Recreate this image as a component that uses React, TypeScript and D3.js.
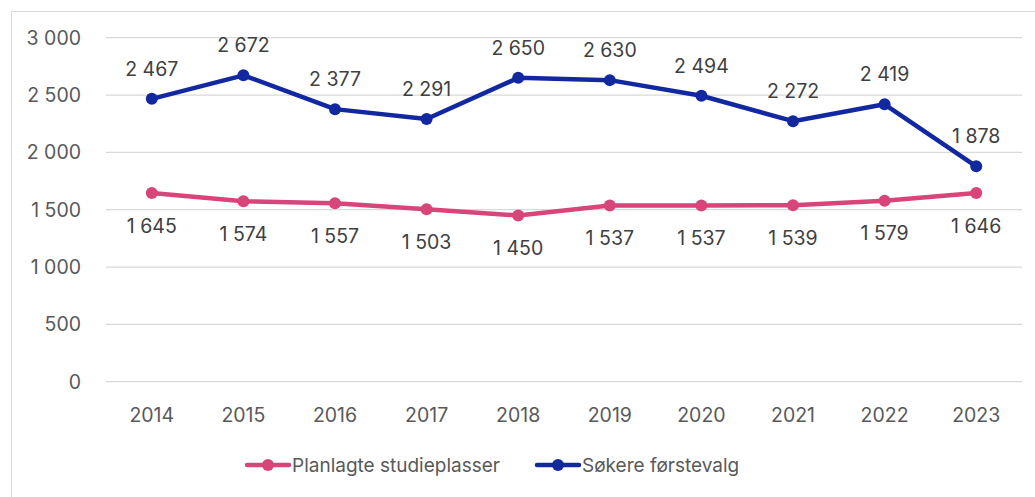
import React, { useEffect, useRef } from 'react';
import * as d3 from 'd3';

const years = ['2014', '2015', '2016', '2017', '2018', '2019', '2020', '2021', '2022', '2023'];
const planlagte = [1645, 1574, 1557, 1503, 1450, 1537, 1537, 1539, 1579, 1646];
const sokere = [2467, 2672, 2377, 2291, 2650, 2630, 2494, 2272, 2419, 1878];
const yTicks = [0, 500, 1000, 1500, 2000, 2500, 3000];

const PINK = '#d8457a';
const BLUE = '#1228a0';
const TEXT = '#595959';
const FONT = 'Inter, "Open Sans", sans-serif';

const fmt = (v: number) => d3.format(',')(v).replace(/,/g, ' ');

const App = () => {
    const ref = useRef<SVGSVGElement>(null);

    useEffect(() => {
        const svg = d3.select(ref.current);
        svg.selectAll('*').remove();

        // chart frame
        svg.append('rect')
            .attr('x', 11.5).attr('y', 11.5)
            .attr('width', 1040).attr('height', 500)
            .attr('fill', 'white').attr('stroke', '#d9d9d9');

        const x = d3.scaleBand().domain(years).range([106, 1022]);
        const cx = (d: string) => (x(d) as number) + x.bandwidth() / 2;
        const y = d3.scaleLinear().domain([0, 3000]).range([381.7, 37.7]);

        svg.append('g').selectAll('line')
            .data(yTicks).enter().append('line')
            .attr('x1', 106).attr('x2', 1022)
            .attr('y1', d => y(d)).attr('y2', d => y(d))
            .attr('stroke', '#d9d9d9').attr('stroke-width', 1.3);

        svg.append('g').selectAll('text')
            .data(yTicks).enter().append('text')
            .attr('x', 81).attr('y', d => y(d)).attr('dy', '0.35em')
            .attr('text-anchor', 'end')
            .attr('font-family', FONT).attr('font-size', 19.5).attr('fill', TEXT)
            .text(d => fmt(d));

        svg.append('g').selectAll('text')
            .data(years).enter().append('text')
            .attr('x', d => cx(d)).attr('y', 415).attr('dy', '0.35em')
            .attr('text-anchor', 'middle')
            .attr('font-family', FONT).attr('font-size', 19.5).attr('fill', TEXT)
            .text(d => d);

        const series = [
            { values: planlagte, color: PINK, dy: 33 },
            { values: sokere, color: BLUE, dy: -30 },
        ];

        series.forEach(s => {
            const pts = years.map((yr, i) => [cx(yr), y(s.values[i]), s.values[i]] as [number, number, number]);
            const line = d3.line<[number, number, number]>().x(d => d[0]).y(d => d[1]);
            svg.append('path')
                .datum(pts)
                .attr('fill', 'none')
                .attr('stroke', s.color)
                .attr('stroke-width', 4.5)
                .attr('stroke-linejoin', 'round')
                .attr('d', line);
            svg.append('g').selectAll('circle')
                .data(pts).enter().append('circle')
                .attr('cx', d => d[0]).attr('cy', d => d[1]).attr('r', 6)
                .attr('fill', s.color);
            svg.append('g').selectAll('text')
                .data(pts).enter().append('text')
                .attr('x', d => d[0]).attr('y', d => d[1] + s.dy).attr('dy', '0.35em')
                .attr('text-anchor', 'middle')
                .attr('font-family', FONT).attr('font-size', 19.5).attr('fill', '#404040')
                .text(d => fmt(d[2]));
        });

        // legend
        const legend = [
            { name: 'Planlagte studieplasser', color: PINK, x: 247 },
            { name: 'Søkere førstevalg', color: BLUE, x: 537 },
        ];
        legend.forEach(l => {
            const g = svg.append('g').attr('transform', `translate(${l.x},465)`);
            g.append('line').attr('x1', 0).attr('x2', 42)
                .attr('stroke', l.color).attr('stroke-width', 4.5).attr('stroke-linecap', 'round');
            g.append('circle').attr('cx', 21).attr('r', 6).attr('fill', l.color);
            g.append('text').attr('x', 45).attr('dy', '0.35em')
                .attr('font-family', FONT).attr('font-size', 19).attr('fill', TEXT)
                .text(l.name);
        });
    }, []);

    return <svg ref={ref} width={1035} height={497} style={{ position: 'absolute', left: 0, top: 0 }} />;
};

export default App;
